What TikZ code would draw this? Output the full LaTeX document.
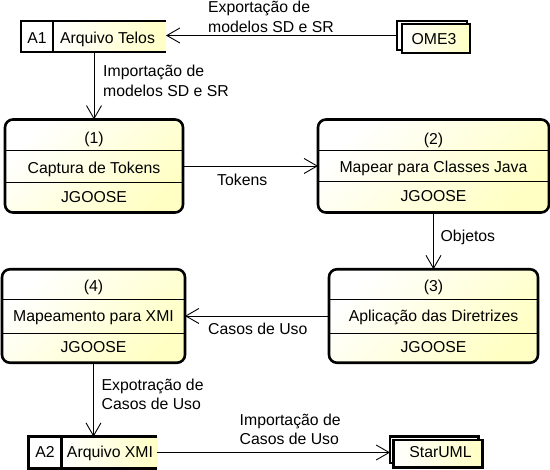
\documentclass[tikz,border=0pt]{standalone}
\usepackage{fontspec}
\setmainfont{Liberation Sans}
\usetikzlibrary{arrows.meta,calc}
\definecolor{boxyellow}{RGB}{255,255,196}
\begin{document}
\begin{tikzpicture}[x=1pt,y=-1pt,
  proc/.style={draw, line width=2.6pt, rounded corners=8pt, left color=white, right color=boxyellow, shading angle=45, inner sep=0pt, outer sep=0pt},
  divider/.style={line width=0.8pt},
  txt/.style={font=\fontsize{15.8}{19.7}\selectfont, inner sep=0pt, anchor=base},
  lbl/.style={txt, anchor=base west, align=left},
  flow/.style={line width=0.9pt, -{Straight Barb[length=13pt,width=15pt,line width=0.9pt]}},
  storeline/.style={line width=2.6pt},
  storeid/.style={fill=white, inner sep=0pt, outer sep=0pt},
  storebody/.style={left color=white, right color=boxyellow, inner sep=0pt, outer sep=0pt},
  entback/.style={draw, fill=white, line width=2.4pt, inner sep=0pt, outer sep=0pt},
  entfront/.style={draw, left color=white, right color=boxyellow, line width=2.4pt, inner sep=0pt, outer sep=0pt}
]
\useasboundingbox (0,0) rectangle (550,470);

% ---- process boxes
\node[proc, minimum width=178pt, minimum height=93pt] (p1) at (94,166) {};
\draw[divider] ($(p1.north west)+(0,30.5)$) -- ($(p1.north east)+(0,30.5)$);
\draw[divider] ($(p1.north west)+(0,62.5)$) -- ($(p1.north east)+(0,62.5)$);
\node[txt] (p1a) at (94,143.5) {(1)};
\node[txt] (p1b) at (94,174) {Captura de Tokens};
\node[txt] (p1c) at (94,203) {JGOOSE};

\node[proc, minimum width=231pt, minimum height=93pt] (p2) at (433.5,166) {};
\draw[divider] ($(p2.north west)+(0,30.5)$) -- ($(p2.north east)+(0,30.5)$);
\draw[divider] ($(p2.north west)+(0,62)$) -- ($(p2.north east)+(0,62)$);
\node[txt] (p2a) at (433.5,144.5) {(2)};
\node[txt] (p2b) at (433.5,173) {Mapear para Classes Java};
\node[txt] (p2c) at (433.5,202) {JGOOSE};

\node[proc, minimum width=209pt, minimum height=93.5pt] (p3) at (433.5,316) {};
\draw[divider] ($(p3.north west)+(0,30.25)$) -- ($(p3.north east)+(0,30.25)$);
\draw[divider] ($(p3.north west)+(0,64.25)$) -- ($(p3.north east)+(0,64.25)$);
\node[txt] (p3a) at (433.5,292) {(3)};
\node[txt] (p3b) at (433.5,322) {Aplicação das Diretrizes};
\node[txt] (p3c) at (433.5,352.5) {JGOOSE};

\node[proc, minimum width=183pt, minimum height=93.5pt] (p4) at (93.5,316) {};
\draw[divider] ($(p4.north west)+(0,30.25)$) -- ($(p4.north east)+(0,30.25)$);
\draw[divider] ($(p4.north west)+(0,64.25)$) -- ($(p4.north east)+(0,64.25)$);
\node[txt] (p4a) at (93.5,292) {(4)};
\node[txt] (p4b) at (93.5,322) {Mapeamento para XMI};
\node[txt] (p4c) at (93.5,352.5) {JGOOSE};

% ---- data stores
\node[storeid, minimum width=32pt, minimum height=31pt] (a1id) at (37,36.5) {};
\node[storebody, minimum width=113pt, minimum height=31pt] (a1) at (109.5,36.5) {};
\draw[storeline] (a1.north east) -- (a1id.north west) -- (a1id.south west) -- (a1.south east);
\draw[storeline] (a1id.north east) -- (a1id.south east);
\node[txt] (a1idt) at (37,43.3) {A1};
\node[txt] (a1t) at (107.5,43.3) {Arquivo Telos};

\node[storeid, minimum width=33.5pt, minimum height=31.5pt] (a2id) at (45,452.5) {};
\node[storebody, minimum width=95.6pt, minimum height=31.5pt] (a2) at (109.5,452.5) {};
\draw[storeline] (a2.north east) -- (a2id.north west) -- (a2id.south west) -- (a2.south east);
\draw[storeline] (a2id.north east) -- (a2id.south east);
\node[txt] (a2idt) at (45,457.7) {A2};
\node[txt] (a2t) at (110,457.7) {Arquivo XMI};

% ---- external entities
\node[entback, minimum width=70pt, minimum height=29pt] (omeb) at (432,35.5) {};
\node[entfront, minimum width=68.3pt, minimum height=28.7pt] (ome) at (435.9,38.4) {};
\node[txt] (omet) at (434,45) {OME3};

\node[entback, minimum width=88.3pt, minimum height=26.6pt] (starb) at (434.2,450) {};
\node[entfront, minimum width=89pt, minimum height=27.3pt] (star) at (437.8,453.7) {};
\node[txt] (start) at (440.5,457.3) {StarUML};

% ---- flows
\draw[flow] (omeb.west) -- (omeb.west -| a1.east);
\draw[flow] (p1.north |- a1.south) -- (p1.north);
\draw[flow] (p1.east) -- (p2.west);
\draw[flow] (p2.south) -- (p3.north);
\draw[flow] (p3.west) -- (p4.east);
\draw[flow] (p4.south) -- (p4.south |- a2.north);
\draw[flow] (a2.east) -- (a2.east -| starb.west);

% ---- flow labels (base = baseline of the last line)
\node[lbl] (l1) at (208,32.7) {Exportação de\\modelos SD e SR};
\node[lbl] (l2) at (103,96.7) {Importação de\\modelos SD e SR};
\node[lbl] (l3) at (217,186) {Tokens};
\node[lbl] (l4) at (440.5,242) {Objetos};
\node[lbl] (l5) at (208,334.3) {Casos de Uso};
\node[lbl] (l6) at (101.5,410) {Expotração de\\Casos de Uso};
\node[lbl] (l7) at (239.5,445) {Importação de\\Casos de Uso};
\end{tikzpicture}
\end{document}
